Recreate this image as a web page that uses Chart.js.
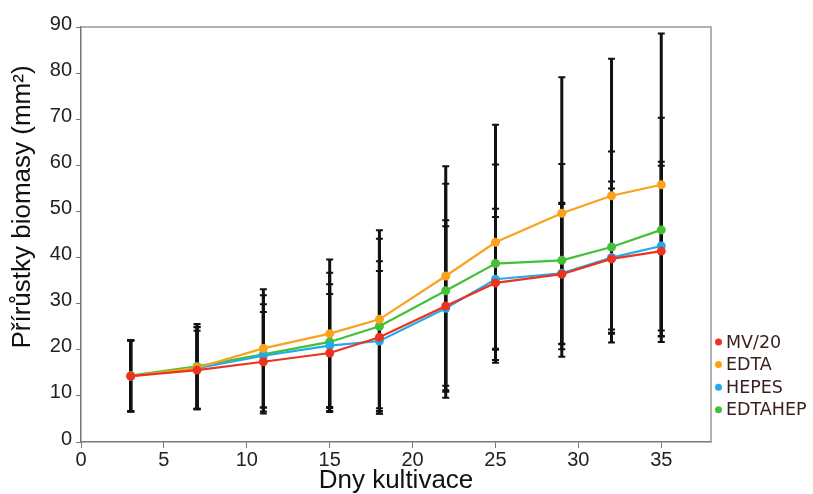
<!DOCTYPE html>
<html>
<head>
<meta charset="utf-8">
<script src="https://cdn.jsdelivr.net/npm/chart.js@4.4.1/dist/chart.umd.min.js"></script>
<style>
  html, body { margin: 0; padding: 0; background: #fff; }
  #wrap { width: 813px; height: 494px; }
</style>
</head>
<body>
<div id="wrap"><canvas id="myChart" width="813" height="494"></canvas></div>
<script>
const days = [3, 7, 11, 15, 18, 22, 25, 29, 32, 35];
const xTicks = [0, 5, 10, 15, 20, 25, 30, 35];

const mv20 = [14.3, 15.6, 17.4, 19.3, 22.7, 29.5, 34.5, 36.4, 39.7, 41.4];
const edta = [14.3, 16.1, 20.3, 23.5, 26.6, 36.0, 43.3, 49.6, 53.4, 55.8];
const hepes = [14.3, 16.0, 18.7, 20.9, 21.9, 29.0, 35.3, 36.6, 40.0, 42.5];
const edtahep = [14.4, 16.4, 19.0, 21.7, 25.1, 32.8, 38.7, 39.4, 42.3, 46.0];

// smerodatne odchylky
const mv20Sd = [7.7, 8.5, 10.8, 12.8, 16.5, 18.6, 14.3, 15.2, 15.3, 18.5];
const edtaSd = [7.7, 8.9, 12.8, 16.1, 19.3, 23.8, 25.5, 29.5, 29.7, 32.8];
const hepesSd = [7.7, 8.9, 11.2, 13.3, 15.2, 17.8, 15.3, 15.3, 16.5, 18.3];
const edtahepSd = [7.7, 9.2, 12.8, 15.0, 19.0, 23.2, 21.5, 20.9, 20.7, 24.3];

const labels = ["MV/20", "EDTA", "HEPES", "EDTAHEP"];
const colors = ["#ec3320", "#fba21c", "#22aaee", "#44c036"];
const values = [mv20, edta, hepes, edtahep];
const errors = [mv20Sd, edtaSd, hepesSd, edtahepSd];

const tickFont = { family: "'Liberation Sans', Arial, sans-serif", size: 20 };
const titleFont = { family: "'Liberation Sans', Arial, sans-serif", size: 26, lineHeight: 1 };

const errorBars = {
    id: 'errorBars',
    beforeDatasetsDraw(chart) {
        const ctx = chart.ctx;
        const xs = chart.scales.x, ys = chart.scales.y;
        ctx.save();
        ctx.strokeStyle = '#111';
        chart.data.datasets.forEach((ds, i) => {
            ds.data.forEach((p, j) => {
                const x = xs.getPixelForValue(p.x);
                const top = ys.getPixelForValue(p.y + errors[i][j]);
                const bot = ys.getPixelForValue(p.y - errors[i][j]);
                ctx.lineWidth = 3;
                ctx.beginPath();
                ctx.moveTo(x, top);
                ctx.lineTo(x, bot);
                ctx.stroke();
                ctx.lineWidth = 2;
                ctx.beginPath();
                ctx.moveTo(x - 3.5, top); ctx.lineTo(x + 3.5, top);
                ctx.moveTo(x - 3.5, bot); ctx.lineTo(x + 3.5, bot);
                ctx.stroke();
            });
        });
        ctx.restore();
    }
};

const frame = {
    id: 'frame',
    afterDraw(chart) {
        const ctx = chart.ctx;
        const a = chart.chartArea;
        ctx.save();
        ctx.strokeStyle = '#999';
        ctx.lineWidth = 1.5;
        ctx.beginPath();
        ctx.moveTo(a.left, a.top);
        ctx.lineTo(a.right, a.top);
        ctx.lineTo(a.right, a.bottom);
        ctx.stroke();

        // titulek osy y
        ctx.translate(23, 207);
        ctx.rotate(-Math.PI / 2);
        ctx.font = "26px 'Liberation Sans', Arial, sans-serif";
        ctx.fillStyle = '#111';
        ctx.textAlign = 'center';
        ctx.textBaseline = 'middle';
        ctx.fillText('Přírůstky biomasy (mm²)', 0, 0);
        ctx.restore();

        // legenda
        ctx.save();
        ctx.font = "17.5px 'DejaVu Sans', Verdana, sans-serif";
        ctx.textBaseline = 'middle';
        labels.forEach((l, i) => {
            const y = 342 + i * 22.6;
            ctx.fillStyle = colors[i];
            ctx.beginPath();
            ctx.arc(718.5, y, 3.5, 0, Math.PI * 2);
            ctx.fill();
            ctx.fillStyle = '#3a1e1e';
            ctx.fillText(l, 726, y + 1);
        });
        ctx.restore();
    }
};

const datasets = labels.map((l, i) => ({
    label: l,
    data: days.map((d, j) => ({ x: d, y: values[i][j] })),
    borderColor: colors[i],
    backgroundColor: colors[i],
    borderWidth: 2.2,
    pointRadius: 4.5,
    pointBorderWidth: 0,
    tension: 0
}));

new Chart(document.getElementById('myChart'), {
    type: 'line',
    data: { datasets: datasets },
    options: {
        responsive: false,
        devicePixelRatio: 1,
        animation: false,
        layout: { padding: { left: 0, top: 27, right: 102, bottom: 0 } },
        plugins: { legend: { display: false }, tooltip: { enabled: false } },
        scales: {
            x: {
                type: 'linear',
                min: 0,
                max: 38,
                afterFit: s => { s.height = 52; },
                afterBuildTicks: s => { s.ticks = xTicks.map(v => ({ value: v })); },
                border: { display: true, color: '#777', width: 1.5 },
                grid: { drawOnChartArea: false, drawTicks: true, tickLength: 6, color: '#777' },
                ticks: { font: tickFont, color: '#222', padding: 0, maxRotation: 0, autoSkip: false },
                title: { display: true, text: 'Dny kultivace', font: titleFont, color: '#111', padding: { top: 0, bottom: 0 } }
            },
            y: {
                min: 0,
                max: 90,
                afterFit: s => { s.width = 81; },
                border: { display: true, color: '#777', width: 1.5 },
                grid: { drawOnChartArea: false, drawTicks: true, tickLength: 5, color: '#777' },
                ticks: { stepSize: 10, font: tickFont, color: '#222', padding: 4, labelOffset: -3 }
            }
        }
    },
    plugins: [errorBars, frame]
});
</script>
</body>
</html>
